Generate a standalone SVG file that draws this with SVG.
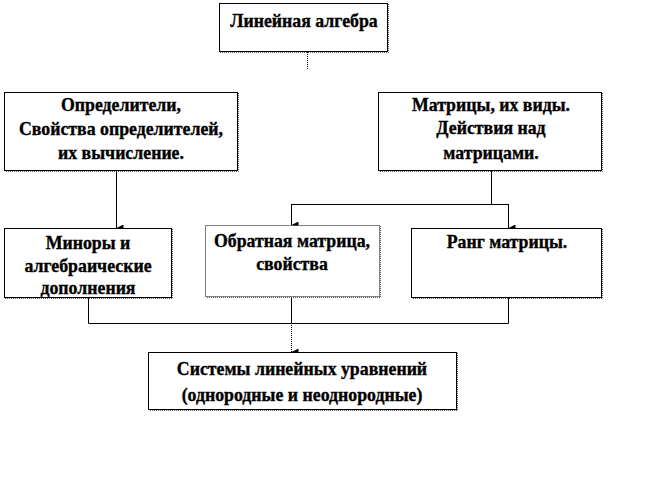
<svg xmlns="http://www.w3.org/2000/svg" width="659" height="482" viewBox="0 0 659 482">
<style>
.box{fill:#fff;stroke:#000;stroke-width:1}
.sh{fill:none;stroke:#555;stroke-width:1;stroke-dasharray:1 1}
.t{font-family:"Liberation Serif","Times New Roman",serif;font-weight:bold;font-size:17.8px;fill:#000;stroke:#000;stroke-width:0.35;text-anchor:middle}
.c{fill:none;stroke:#000;stroke-width:1}
.d{fill:none;stroke:#000;stroke-width:1;stroke-dasharray:1 1}
</style>
<defs>
<marker id="ah" viewBox="0 0 8 8" refX="4" refY="8" markerWidth="7" markerHeight="7" markerUnits="userSpaceOnUse" orient="auto-start-reverse">
<path d="M0,0 L8,0 L4,8 Z" fill="#000"/>
</marker>
</defs>
<rect width="659" height="482" fill="#fff"/>
<g id="connectors">
<path class="d" d="M307.5,52 V70"/>
<path class="c" d="M491.5,171 V204.5 M291.5,204.5 H508.5"/>
<path class="c" d="M291.5,204 V225" marker-end="url(#ah)"/>
<path class="c" d="M508.5,204 V228" marker-end="url(#ah)"/>
<path class="c" d="M116.5,171 V228" marker-end="url(#ah)"/>
<path class="c" d="M88.5,298 V323.5 H508.5 V298 M291.5,297 V323"/>
<path class="d" d="M291.5,323 V352" marker-end="url(#ah)"/>
</g>
<g id="n1">
<rect class="box" x="219.5" y="3.5" width="168" height="48"/>
<path class="sh" d="M388.5,4 V52.5 H220"/>
<text class="t" x="304" y="27">Линейная алгебра</text>
</g>
<g id="n2">
<rect class="box" x="4.5" y="92.5" width="233" height="78"/>
<path class="sh" d="M238.5,93 V171.5 H5"/>
<text class="t" x="121" y="111">Определители,</text>
<text class="t" x="121" y="135">Свойства определителей,</text>
<text class="t" x="121" y="159">их вычисление.</text>
</g>
<g id="n3">
<rect class="box" x="378.5" y="92.5" width="223" height="78"/>
<path class="sh" d="M602.5,93 V171.5 H379"/>
<text class="t" x="491" y="111">Матрицы, их виды.</text>
<text class="t" x="491" y="134">Действия над</text>
<text class="t" x="491" y="159">матрицами.</text>
</g>
<g id="n4">
<rect class="box" x="4.5" y="228.5" width="167" height="69"/>
<path class="sh" d="M172.5,229 V298.5 H5"/>
<text class="t" x="88" y="249">Миноры и</text>
<text class="t" x="88" y="272">алгебраические</text>
<text class="t" x="88" y="294">дополнения</text>
</g>
<g id="n5">
<rect class="box" x="205.5" y="225.5" width="174" height="71" stroke-dasharray="1 1"/>
<path class="sh" d="M380.5,226 V297.5 H206"/>
<text class="t" x="292" y="247">Обратная матрица,</text>
<text class="t" x="292" y="270">свойства</text>
</g>
<g id="n6">
<rect class="box" x="411.5" y="228.5" width="190" height="69"/>
<path class="sh" d="M602.5,229 V298.5 H412"/>
<text class="t" x="507" y="248">Ранг матрицы.</text>
</g>
<g id="n7">
<rect class="box" x="148.5" y="352.5" width="308" height="57"/>
<path class="sh" d="M457.5,353 V410.5 H149"/>
<text class="t" x="302" y="375">Системы линейных уравнений</text>
<text class="t" x="302" y="401">(однородные и неоднородные)</text>
</g>
</svg>
